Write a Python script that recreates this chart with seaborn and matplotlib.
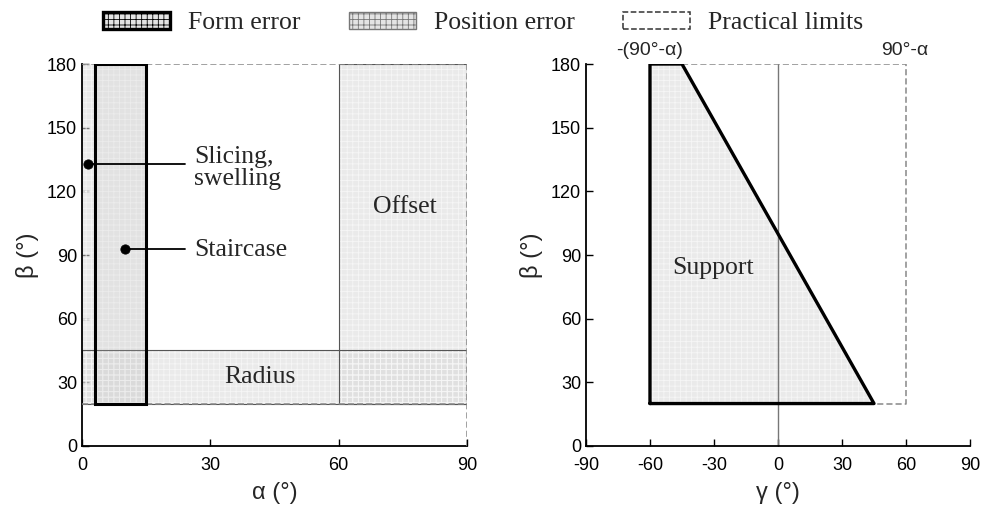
import matplotlib
matplotlib.use("Agg")
import matplotlib.pyplot as plt
import seaborn as sns
import pandas as pd
from matplotlib.patches import Rectangle, Polygon, Patch

# ---- data ----
alpha_ticks = [0, 30, 60, 90]
gamma_ticks = [-90, -60, -30, 0, 30, 60, 90]
gamma_ticklabels = ["-90", "-60", "-30", "0", "30", "60", "90"]
beta_ticks = [0, 30, 60, 90, 120, 150, 180]
beta_min, beta_max = 20, 180
# left panel regions (alpha range, beta range)
slicing_alpha = [0, 15]
form_alpha = [3, 15]
offset_alpha = [60, 90]
radius_beta = [20, 45]
alpha_max = 90
# marker points
point_labels = ["Slicing,\nswelling", "Staircase"]
point_alpha = [1.5, 10]
point_beta = [133, 93]
# right panel support polygon
support_gamma = [-60, -60, -45, 45, -60]
support_beta = [20, 180, 180, 20, 20]
limit_gamma = [-45, 60, 60, 45]
limit_beta = [180, 180, 20, 20]

sns.set_theme(style="ticks")
plt.rcParams["font.family"] = ["Liberation Sans", "DejaVu Sans"]
plt.rcParams["hatch.linewidth"] = 0.6
SERIF = ["Liberation Serif", "DejaVu Serif"]

fig = plt.figure(figsize=(9.84, 5.15), dpi=100)
axL = fig.add_axes([0.0833, 0.134, 0.3913, 0.7417])
axR = fig.add_axes([0.5955, 0.134, 0.3903, 0.7417])

FILL = "#d9d9d9"
HATCH_C = "#f6f6f6"

def pos_rect(ax, x0, x1, y0, y1, lw=0.8, ec="#555555"):
    ax.add_patch(Rectangle((x0, y0), x1 - x0, y1 - y0, facecolor=FILL, alpha=0.55,
                           edgecolor="none", zorder=1))
    ax.add_patch(Rectangle((x0, y0), x1 - x0, y1 - y0, facecolor="none",
                           edgecolor=HATCH_C, hatch="+++", lw=0, zorder=1.5))
    ax.add_patch(Rectangle((x0, y0), x1 - x0, y1 - y0, facecolor="none",
                           edgecolor=ec, lw=lw, zorder=2))

# ---- left panel ----
pos_rect(axL, slicing_alpha[0], slicing_alpha[1], beta_min, beta_max, lw=0)
pos_rect(axL, offset_alpha[0], offset_alpha[1], beta_min, beta_max)
pos_rect(axL, 0, alpha_max, radius_beta[0], radius_beta[1])
# form error (thick border)
axL.add_patch(Rectangle((form_alpha[0], beta_min), form_alpha[1] - form_alpha[0],
                        beta_max - beta_min, facecolor="#c4c4c4", alpha=0.2,
                        edgecolor="none", zorder=2))
axL.add_patch(Rectangle((form_alpha[0], beta_min), form_alpha[1] - form_alpha[0],
                        beta_max - beta_min, facecolor="none", edgecolor="black",
                        lw=2.2, zorder=4))
# practical limits
dash = dict(color="#888888", lw=1.1, ls=(0, (4, 2)), zorder=3)
axL.plot([0, alpha_max], [beta_max, beta_max], **dash)
axL.plot([0, alpha_max], [beta_min, beta_min], **dash)
axL.plot([alpha_max, alpha_max], [0, beta_max], **dash)

# points + leader lines
pts = pd.DataFrame({"alpha": point_alpha, "beta": point_beta, "label": point_labels})
for _, r in pts.iterrows():
    axL.plot([r["alpha"], 24], [r["beta"], r["beta"]], color="black", lw=1.3, zorder=5)
sns.scatterplot(data=pts, x="alpha", y="beta", ax=axL, color="black", s=45,
                edgecolor="black", zorder=6, legend=False)
axL.text(26.3, 131, point_labels[0], family=SERIF, fontsize=18.5, va="center",
         ha="left", linespacing=0.95, zorder=6)
axL.text(26.3, 92.5, point_labels[1], family=SERIF, fontsize=18.5, va="center",
         ha="left", zorder=6)
axL.text(75.5, 112.5, "Offset", family=SERIF, fontsize=18.5, ha="center", va="center", zorder=6)
axL.text(41.5, 32.5, "Radius", family=SERIF, fontsize=18.5, ha="center", va="center", zorder=6)

axL.set_xlim(0, 90)
axL.set_xticks(alpha_ticks)
axL.set_xlabel("α (°)", fontsize=17, labelpad=6)

# ---- right panel ----
axR.add_patch(Polygon(list(zip(support_gamma, support_beta)), closed=True,
                      facecolor=FILL, alpha=0.55, edgecolor="none", zorder=1))
axR.add_patch(Polygon(list(zip(support_gamma, support_beta)), closed=True,
                      facecolor="none", edgecolor=HATCH_C, hatch="+++", lw=0, zorder=1.5))
axR.plot([0, 0], [0, beta_max], color="#777777", lw=1.0, zorder=2)
axR.plot(limit_gamma, limit_beta, **dash)
sup = pd.DataFrame({"gamma": support_gamma, "beta": support_beta})
sns.lineplot(data=sup, x="gamma", y="beta", ax=axR, sort=False, estimator=None,
             color="black", lw=2.4, zorder=5)
axR.text(-49.5, 84, "Support", family=SERIF, fontsize=18.5, ha="left", va="center", zorder=6)
axR.text(-60, 182.5, "-(90°-α)", fontsize=14, ha="center", va="bottom", clip_on=False)
axR.text(59.5, 182.5, "90°-α", fontsize=14, ha="center", va="bottom", clip_on=False)
axR.set_xlim(-90, 90)
axR.set_xticks(gamma_ticks)
axR.set_xticklabels(gamma_ticklabels)
axR.set_xlabel("γ (°)", fontsize=17, labelpad=6)

for ax in (axL, axR):
    ax.set_ylim(0, 180)
    ax.set_yticks(beta_ticks)
    ax.set_ylabel("β (°)", fontsize=17, labelpad=6)
    sns.despine(ax=ax)
    ax.tick_params(direction="in", length=5, width=1, labelsize=13, colors="black")
    ax.tick_params(axis="x", pad=8)
    for s in ("left", "bottom"):
        ax.spines[s].set_linewidth(1.3)
        ax.spines[s].set_color("black")

# ---- legend ----
handles = [
    Patch(facecolor="#e4e4e4", edgecolor="black", lw=2.4, hatch="+++"),
    Patch(facecolor="#e4e4e4", edgecolor="#777777", lw=1.0, hatch="+++"),
    Patch(facecolor="white", edgecolor="#333333", lw=1.1, ls="--"),
]
fig.legend(handles, ["Form error", "Position error", "Practical limits"],
           loc="upper center", bbox_to_anchor=(0.491, 1.022), ncol=3, frameon=False,
           prop={"family": "Liberation Serif", "size": 18.5}, handlelength=2.6,
           handleheight=0.65, columnspacing=1.9, handletextpad=0.7)

fig.savefig("out.png", dpi=100)
